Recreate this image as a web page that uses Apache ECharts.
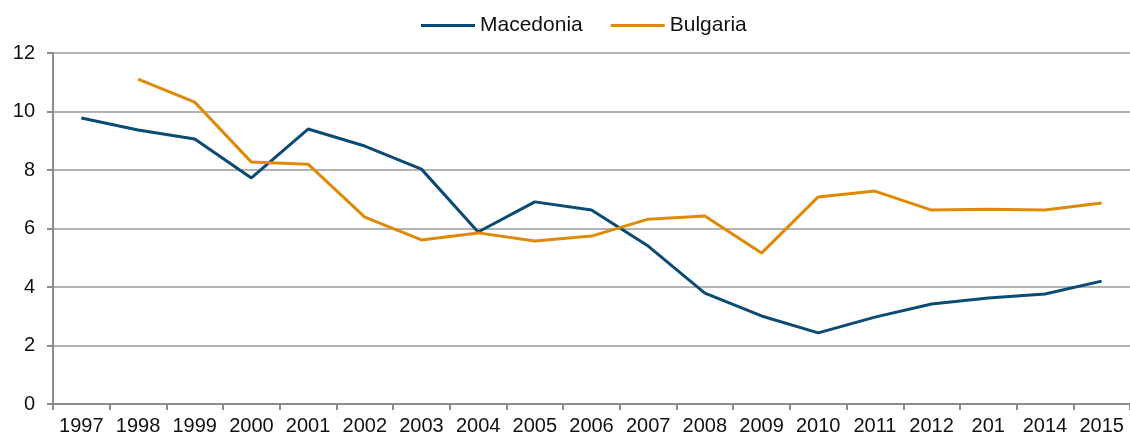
<!DOCTYPE html>
<html>
<head>
<meta charset="utf-8">
<script src="https://cdn.jsdelivr.net/npm/echarts@6/dist/echarts.min.js"></script>
<style>
  html, body { margin: 0; padding: 0; background: #fff; }
  #chart { width: 1130px; height: 439px; }
</style>
</head>
<body>
<div id="chart"></div>
<script>
// years on the x axis (the original has "201" for 2013)
var years = ["1997", "1998", "1999", "2000", "2001", "2002", "2003", "2004", "2005", "2006",
  "2007", "2008", "2009", "2010", "2011", "2012", "201", "2014", "2015"];
var macedonia = [9.78, 9.37, 9.06, 7.73, 9.40, 8.82, 8.03, 5.88, 6.91, 6.63,
  5.40, 3.79, 3.01, 2.43, 2.97, 3.42, 3.62, 3.76, 4.20];
var bulgaria = [null, 11.11, 10.32, 8.27, 8.20, 6.39, 5.61, 5.85, 5.57, 5.74,
  6.32, 6.43, 5.16, 7.08, 7.28, 6.63, 6.66, 6.63, 6.87];

var chart = echarts.init(document.getElementById("chart"));
var axisGray = "#8c8c8c";
var option = {
  animation: false,
  textStyle: { fontFamily: "Liberation Sans, Arial, sans-serif" },
  legend: {
    top: 10,
    left: 416,
    itemWidth: 54,
    itemHeight: 3,
    itemGap: 28,
    icon: "rect",
    textStyle: { fontSize: 21, color: "#111" },
    data: ["Macedonia", "Bulgaria"]
  },
  grid: { left: 53, right: -7, top: 53, bottom: 35, containLabel: false },
  xAxis: {
    type: "category",
    data: years,
    boundaryGap: true,
    axisLine: { lineStyle: { color: axisGray, width: 2 } },
    axisTick: { show: true, length: 6, lineStyle: { color: axisGray, width: 2 } },
    axisLabel: { fontSize: 20, color: "#111", margin: 12, interval: 0 }
  },
  yAxis: {
    type: "value",
    min: 0,
    max: 12,
    interval: 2,
    axisLine: { show: true, lineStyle: { color: axisGray, width: 2 } },
    axisTick: { show: true, length: 6, lineStyle: { color: axisGray, width: 2 } },
    axisLabel: { fontSize: 20, color: "#111", margin: 18 },
    splitLine: { lineStyle: { color: "#9a9a9a", width: 1.5 } }
  },
  series: [
    {
      name: "Macedonia",
      type: "line",
      data: macedonia,
      showSymbol: false,
      symbol: "none",
      color: "#0b4a73",
      lineStyle: { width: 3, color: "#0b4a73" }
    },
    {
      name: "Bulgaria",
      type: "line",
      data: bulgaria,
      showSymbol: false,
      symbol: "none",
      color: "#de8a06",
      lineStyle: { width: 3, color: "#de8a06" }
    }
  ]
};
chart.setOption(option);
</script>
</body>
</html>
